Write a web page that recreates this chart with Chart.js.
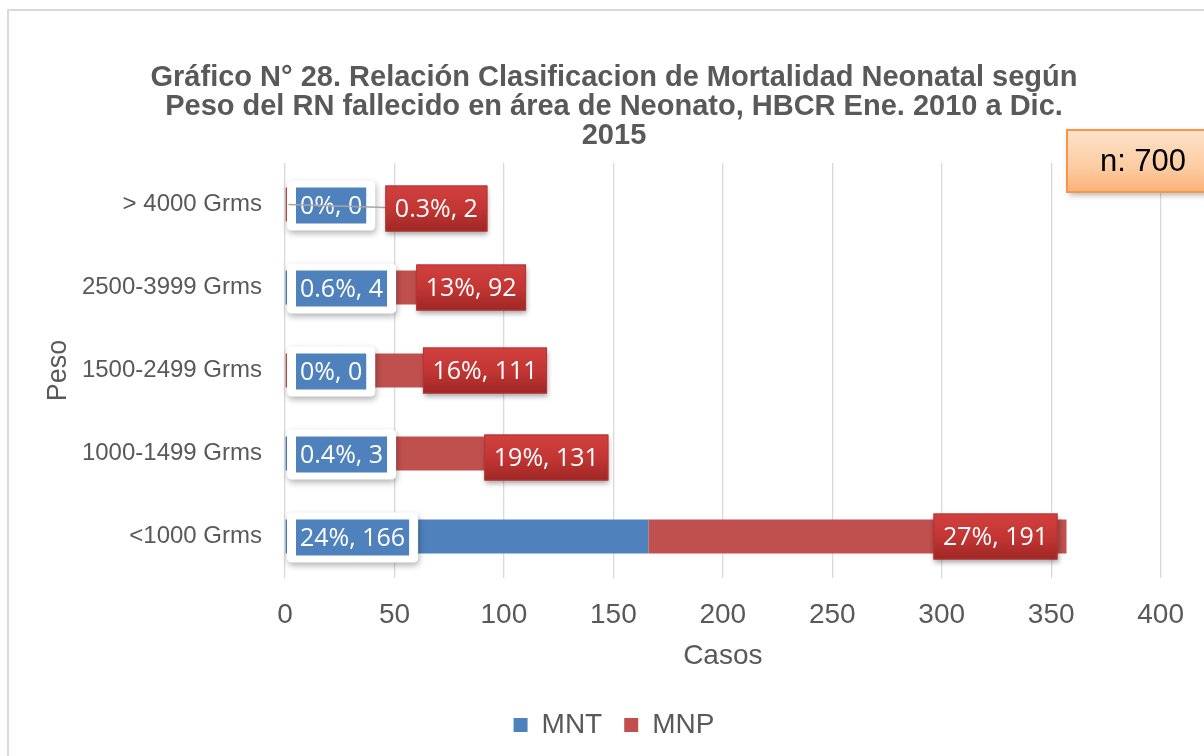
<!DOCTYPE html>
<html>
<head>
<meta charset="utf-8">
<script src="https://cdn.jsdelivr.net/npm/chart.js@4"></script>
<style>
  html, body { margin: 0; padding: 0; background: #fff; }
  #wrap { width: 1204px; height: 756px; }
</style>
</head>
<body>
<div id="wrap"><canvas id="pesoChart" width="1204" height="756"></canvas></div>
<script>
// categories, top to bottom
const pesoLabels = ['> 4000 Grms', '2500-3999 Grms', '1500-2499 Grms', '1000-1499 Grms', '<1000 Grms'];
// cases
const mntCasos = [0, 4, 0, 3, 166];
const mnpCasos = [2, 92, 111, 131, 191];
// percent of n
const mntPct = [0, 0.6, 0, 0.4, 24];
const mnpPct = [0.3, 13, 16, 19, 27];
const xTicks = [0, 50, 100, 150, 200, 250, 300, 350, 400];
const totalN = 700;

// where the MNP labels were dragged to (px from bar end / bar centre)
const mnpLabelShift = [[147, 4], [-24, 0], [-43, 0], [-32, 4], [-71, 0]];

const axisFont = 'Liberation Sans, Arial, sans-serif';
const labelFont = '25px "Open Sans", sans-serif';

function roundRect(ctx, x, y, w, h, r) {
    ctx.beginPath();
    ctx.moveTo(x + r, y);
    ctx.lineTo(x + w - r, y);
    ctx.quadraticCurveTo(x + w, y, x + w, y + r);
    ctx.lineTo(x + w, y + h - r);
    ctx.quadraticCurveTo(x + w, y + h, x + w - r, y + h);
    ctx.lineTo(x + r, y + h);
    ctx.quadraticCurveTo(x, y + h, x, y + h - r);
    ctx.lineTo(x, y + r);
    ctx.quadraticCurveTo(x, y, x + r, y);
    ctx.closePath();
}

const framePlugin = {
    id: 'frame',
    beforeDraw(chart) {
        const ctx = chart.ctx;
        ctx.save();
        ctx.fillStyle = '#fff';
        ctx.fillRect(0, 0, chart.width, chart.height);
        ctx.strokeStyle = '#d9d9d9';
        ctx.lineWidth = 2;
        ctx.strokeRect(8, 10, 1400, 900);
        ctx.restore();
    }
};

const labelPlugin = {
    id: 'barLabels',
    afterDatasetsDraw(chart) {
        const ctx = chart.ctx;
        const xs = chart.scales.x;
        const mntMeta = chart.getDatasetMeta(0);
        const mnpMeta = chart.getDatasetMeta(1);
        ctx.save();
        ctx.font = labelFont;
        ctx.textBaseline = 'middle';
        ctx.textAlign = 'center';

        // MNT labels: white callout with blue fill at the bar base
        mntMeta.data.forEach((bar, i) => {
            const txt = mntPct[i] + '%, ' + mntCasos[i];
            const tw = ctx.measureText(txt).width;
            const cy = bar.y + 1;
            const bw = tw + 8, bh = 36;
            const ow = bw + 18, oh = 50;
            const ox = xs.getPixelForValue(0) + 2;
            ctx.save();
            ctx.shadowColor = 'rgba(0,0,0,0.3)';
            ctx.shadowBlur = 6;
            ctx.shadowOffsetX = 1;
            ctx.shadowOffsetY = 3;
            ctx.fillStyle = '#fff';
            roundRect(ctx, ox, cy - oh / 2, ow, oh, 5);
            ctx.fill();
            ctx.restore();
            ctx.fillStyle = '#4f81bd';
            ctx.fillRect(ox + 9, cy - bh / 2, bw, bh);
            ctx.fillStyle = '#fff';
            ctx.fillText(txt, ox + 9 + bw / 2, cy + 1);
        });

        // MNP labels: red boxes near the bar end
        mnpMeta.data.forEach((bar, i) => {
            const txt = mnpPct[i] + '%, ' + mnpCasos[i];
            const tw = ctx.measureText(txt).width;
            const w = tw + 19, h = 46;
            const cx = bar.x + mnpLabelShift[i][0];
            const cy = bar.y + mnpLabelShift[i][1];
            const left = cx - w / 2, top = cy - h / 2;
            if (mnpLabelShift[i][0] > 60) {
                ctx.strokeStyle = '#a6a6a6';
                ctx.lineWidth = 1.5;
                ctx.beginPath();
                ctx.moveTo(bar.x - 1, bar.y);
                ctx.lineTo(left, cy - 1);
                ctx.stroke();
            }
            ctx.save();
            ctx.shadowColor = 'rgba(0,0,0,0.35)';
            ctx.shadowBlur = 5;
            ctx.shadowOffsetX = 1;
            ctx.shadowOffsetY = 3;
            const g = ctx.createLinearGradient(0, top, 0, top + h);
            g.addColorStop(0, '#d1403e');
            g.addColorStop(0.5, '#c33634');
            g.addColorStop(1, '#9e2725');
            ctx.fillStyle = g;
            ctx.fillRect(left, top, w, h);
            ctx.restore();
            ctx.strokeStyle = '#b53533';
            ctx.lineWidth = 1;
            ctx.strokeRect(left + 0.5, top + 0.5, w - 1, h - 1);
            ctx.fillStyle = '#fff';
            ctx.fillText(txt, cx, cy + 1);
        });

        // n box
        const nx = 1067, ny = 130, nw = 200, nh = 62;
        ctx.save();
        ctx.shadowColor = 'rgba(0,0,0,0.3)';
        ctx.shadowBlur = 6;
        ctx.shadowOffsetX = 2;
        ctx.shadowOffsetY = 3;
        const ng = ctx.createLinearGradient(0, ny, 0, ny + nh);
        ng.addColorStop(0, '#fee2ca');
        ng.addColorStop(0.6, '#fccca2');
        ng.addColorStop(1, '#fab27a');
        ctx.fillStyle = ng;
        ctx.fillRect(nx, ny, nw, nh);
        ctx.restore();
        ctx.strokeStyle = '#f79646';
        ctx.lineWidth = 2;
        ctx.strokeRect(nx, ny, nw, nh);
        ctx.fillStyle = '#000';
        ctx.font = '31px ' + axisFont;
        ctx.fillText('n: ' + totalN, 1143, 162);
        ctx.restore();
    }
};

const ctxPeso = document.getElementById('pesoChart').getContext('2d');

new Chart(ctxPeso, {
    type: 'bar',
    data: {
        labels: pesoLabels,
        datasets: [
            {
                label: 'MNT',
                data: mntCasos,
                backgroundColor: '#4f81bd',
                yAxisID: 'y',
                barPercentage: 0.41,
                categoryPercentage: 1
            },
            {
                label: 'MNP',
                data: mnpCasos,
                backgroundColor: '#c0504d',
                yAxisID: 'y',
                barPercentage: 0.41,
                categoryPercentage: 1
            }
        ]
    },
    options: {
        indexAxis: 'y',
        responsive: false,
        animation: false,
        layout: {
            padding: { left: 24, right: 0, top: 0, bottom: 7 }
        },
        plugins: {
            title: {
                display: true,
                text: [
                    'Gráfico N° 28. Relación Clasificacion de Mortalidad Neonatal según',
                    'Peso del RN fallecido en área de Neonato, HBCR Ene. 2010 a Dic.',
                    '2015'
                ],
                color: '#595959',
                font: { family: axisFont, size: 29, weight: 'bold', lineHeight: 1.0 },
                padding: { top: 63, bottom: 13 }
            },
            legend: {
                position: 'bottom',
                labels: {
                    boxWidth: 14,
                    boxHeight: 14,
                    padding: 22,
                    color: '#595959',
                    font: { family: axisFont, size: 28 }
                }
            },
            tooltip: { enabled: false }
        },
        scales: {
            x: {
                stacked: true,
                min: 0,
                max: 400,
                afterBuildTicks: (scale) => {
                    scale.ticks = xTicks.map(v => ({ value: v }));
                },
                afterFit: (scale) => { scale.height = 111; },
                grid: { color: '#d9d9d9', lineWidth: 1.3, drawTicks: false },
                border: { display: false },
                ticks: {
                    color: '#595959',
                    padding: 20,
                    font: { family: axisFont, size: 28 }
                },
                title: {
                    display: true,
                    text: 'Casos',
                    color: '#595959',
                    font: { family: axisFont, size: 28 },
                    padding: { top: 0, bottom: 16 }
                }
            },
            y: {
                stacked: true,
                afterFit: (scale) => { scale.width = 261; },
                grid: { display: false, drawTicks: false },
                border: { display: false },
                ticks: {
                    color: '#595959',
                    padding: 23,
                    font: { family: axisFont, size: 24 }
                },
                title: {
                    display: true,
                    text: 'Peso',
                    color: '#595959',
                    font: { family: axisFont, size: 27 },
                    padding: { top: 18, bottom: 0 }
                }
            },
            yRight: {
                type: 'linear',
                axis: 'y',
                position: 'right',
                display: true,
                afterFit: (scale) => { scale.width = 41; },
                grid: { display: false, drawTicks: false },
                border: { display: false },
                ticks: { display: false }
            }
        }
    },
    plugins: [framePlugin, labelPlugin]
});
</script>
</body>
</html>
